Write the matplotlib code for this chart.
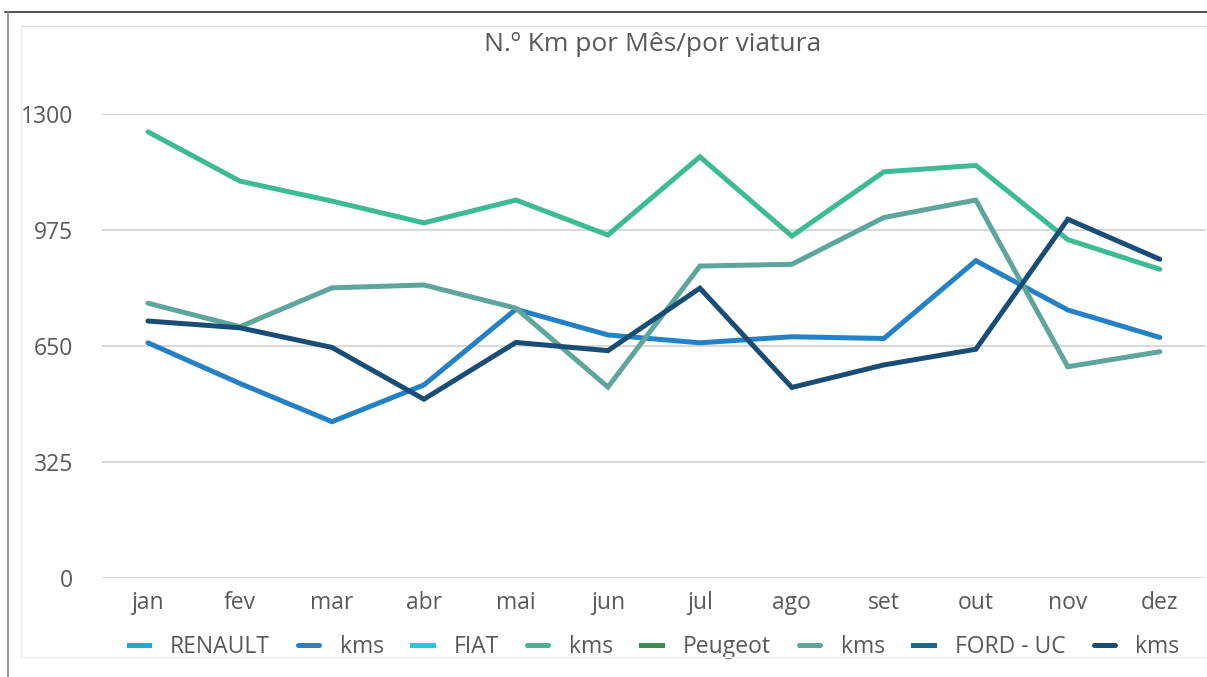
import matplotlib.pyplot as plt
from matplotlib.lines import Line2D

plt.rcParams['font.family'] = ['Open Sans', 'DejaVu Sans']

months = ['jan', 'fev', 'mar', 'abr', 'mai', 'jun',
          'jul', 'ago', 'set', 'out', 'nov', 'dez']
yticks = [0, 325, 650, 975, 1300]

# values (km per month)
renault_kms = [659, 545, 438, 541, 753, 681, 659, 676, 671, 889, 751, 674]
fiat_kms = [1250, 1112, 1056, 995, 1059, 961, 1180, 958, 1138, 1156, 948, 865]
peugeot_kms = [770, 704, 813, 821, 756, 535, 874, 879, 1010, 1059, 592, 634]
ford_kms = [720, 701, 646, 501, 660, 637, 812, 534, 597, 641, 1005, 893]

# legend entries: (label, colour, data or None)
series = [
    ('RENAULT', '#1fa8e0', None),
    ('kms', '#2481c6', renault_kms),
    ('FIAT', '#27c9d8', None),
    ('kms', '#3dbb94', fiat_kms),
    ('Peugeot', '#3b8c52', None),
    ('kms', '#5ea69c', peugeot_kms),
    ('FORD - UC', '#16698a', None),
    ('kms', '#1a4d76', ford_kms),
]

fig = plt.figure(figsize=(12.07, 6.77), dpi=100)
ax = fig.add_axes([0.0845, 0.1462, 0.9145, 0.6854])

x = list(range(len(months)))
for label, color, data in series:
    if data is None:
        ax.plot([], [], color=color, lw=3.6, label=label)
    else:
        ax.plot(x, data, color=color, lw=3.6, label=label,
                solid_capstyle='round', solid_joinstyle='miter')

ax.set_xlim(-0.5, len(months) - 0.5)
ax.set_ylim(0, 1300)
ax.set_yticks(yticks)
ax.set_yticklabels([str(v) for v in yticks])
ax.set_xticks(x)
ax.set_xticklabels(months)
ax.tick_params(axis='both', length=0, labelsize=16.5, labelcolor='#595959')
ax.tick_params(axis='x', pad=9)
ax.tick_params(axis='y', pad=21)
ax.grid(axis='y', color='#d9d9d9', lw=1.5)
ax.set_axisbelow(True)
for s in ax.spines.values():
    s.set_visible(False)

fig.text(0.541, 0.935, 'N.º Km por Mês/por viatura', ha='center', va='center',
         fontsize=19, color='#595959')

ax.legend(loc='center', bbox_to_anchor=(0.5, -0.148), ncol=8, frameon=False,
          fontsize=16.5, handlelength=0.9, handletextpad=0.9, columnspacing=1.25,
          labelcolor='#595959')

# outer frame lines
fig.add_artist(Line2D([0.004, 1.0], [0.982, 0.982], color='#333333', lw=1.2,
                      transform=fig.transFigure))
fig.add_artist(Line2D([0.007, 0.007], [0.982, 0.0], color='#888888', lw=1.2,
                      transform=fig.transFigure))
fig.add_artist(Line2D([0.017, 1.0], [0.962, 0.962], color='#dddddd', lw=1.0,
                      transform=fig.transFigure))
fig.add_artist(Line2D([0.017, 0.017], [0.962, 0.030], color='#eeeeee', lw=1.0,
                      transform=fig.transFigure))
fig.add_artist(Line2D([0.017, 1.0], [0.030, 0.030], color='#eeeeee', lw=1.0,
                      transform=fig.transFigure))

fig.savefig('out.png', dpi=100)
